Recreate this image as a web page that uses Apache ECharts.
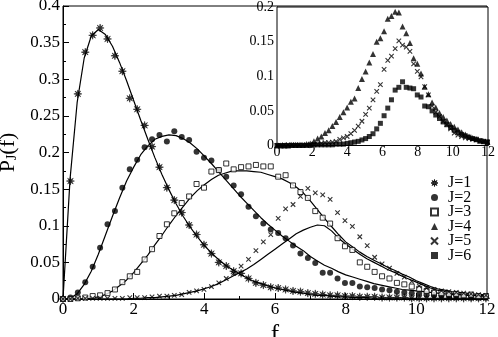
<!DOCTYPE html>
<html><head><meta charset="utf-8">
<script src="https://cdn.jsdelivr.net/npm/echarts@6.0.0/dist/echarts.min.js"></script>
<style>html,body{margin:0;padding:0;background:#fff}#c{width:498px;height:337px}</style>
</head><body><div id="c"></div>
<script>
// sample positions of the simulated points
const fData = [0,0.21,0.42,0.63,0.84,1.05,1.26,1.47,1.68,1.89,
  2.1,2.31,2.52,2.73,2.94,3.15,3.36,3.57,3.78,3.99,
  4.2,4.41,4.62,4.83,5.04,5.25,5.46,5.67,5.88,6.09,
  6.3,6.51,6.72,6.93,7.14,7.35,7.56,7.77,7.98,8.19,
  8.4,8.61,8.82,9.03,9.24,9.45,9.66,9.87,10.08,10.29,
  10.5,10.71,10.92,11.13,11.34,11.55,11.76,11.97];
const j1 = [0,0.161,0.280,0.337,0.360,0.370,0.355,0.332,0.311,0.274,
  0.259,0.237,0.208,0.180,0.152,0.135,0.118,0.101,0.088,0.074,
  0.062,0.050,0.045,0.038,0.035,0.028,0.022,0.019,0.016,0.015,
  0.013,0.011,0.010,0.008,0.007,0.006,0.005,0.005,0.004,0.004,
  0.003,0.003,0.003,0.002,0.002,0.002,0.002,0.001,0.001,0.001,
  0.001,0.001,0.001,0.001,0.001,0.001,0.001,0.001];
const j2 = [0,0.002,0.009,0.023,0.044,0.070,0.102,0.120,0.152,0.177,
  0.190,0.207,0.218,0.224,0.215,0.229,0.221,0.217,0.201,0.193,
  0.189,0.176,0.167,0.155,0.143,0.126,0.113,0.103,0.095,0.090,
  0.083,0.073,0.062,0.056,0.049,0.036,0.036,0.028,0.022,0.022,
  0.017,0.016,0.015,0.013,0.012,0.010,0.009,0.008,0.007,0.006,
  0.005,0.004,0.004,0.003,0.003,0.002,0.002,0.002];
const j3 = [0,0.000,0.001,0.002,0.004,0.005,0.008,0.013,0.023,0.031,
  0.037,0.054,0.068,0.086,0.102,0.117,0.131,0.140,0.157,0.152,
  0.174,0.176,0.185,0.177,0.180,0.181,0.183,0.181,0.181,0.167,
  0.169,0.155,0.146,0.138,0.120,0.111,0.103,0.083,0.072,0.067,
  0.050,0.044,0.037,0.031,0.028,0.022,0.020,0.017,0.014,0.011,
  0.009,0.008,0.007,0.007,0.005,0.006,0.004,0.004];
const j4 = [0,0.000,0.000,0.000,0.001,0.001,0.001,0.001,0.002,0.003,
  0.006,0.010,0.013,0.018,0.022,0.028,0.034,0.041,0.048,0.055,
  0.063,0.068,0.083,0.096,0.107,0.120,0.132,0.150,0.155,0.165,
  0.183,0.187,0.193,0.192,0.172,0.162,0.148,0.126,0.118,0.104,
  0.085,0.074,0.062,0.055,0.047,0.041,0.036,0.031,0.027,0.023,
  0.019,0.016,0.013,0.011,0.009,0.007,0.006,0.005];
const j5 = [0,0.000,0.001,0.001,0.001,0.001,0.001,0.001,0.001,0.002,
  0.002,0.002,0.003,0.004,0.004,0.005,0.006,0.009,0.011,0.013,
  0.017,0.022,0.028,0.035,0.045,0.054,0.066,0.078,0.088,0.110,
  0.123,0.129,0.140,0.151,0.145,0.142,0.136,0.118,0.107,0.099,
  0.085,0.073,0.057,0.048,0.042,0.035,0.030,0.024,0.018,0.015,
  0.013,0.011,0.010,0.009,0.008,0.007,0.006,0.005];
const j6 = [0,0.000,0.000,0.000,0.000,0.000,0.000,0.000,0.000,0.000,
  0.001,0.001,0.001,0.001,0.001,0.001,0.002,0.002,0.002,0.003,
  0.004,0.005,0.006,0.008,0.010,0.013,0.017,0.024,0.032,0.043,
  0.054,0.066,0.080,0.084,0.092,0.084,0.083,0.082,0.073,0.070,
  0.057,0.056,0.050,0.044,0.039,0.034,0.030,0.026,0.022,0.019,
  0.016,0.014,0.012,0.010,0.009,0.007,0.006,0.005];

// fitted curves
const fCurve = [0,0.2,0.4,0.6,0.8,1,1.2,1.4,1.6,1.8,
  2,2.2,2.4,2.6,2.8,3,3.2,3.4,3.6,3.8,
  4,4.2,4.4,4.6,4.8,5,5.2,5.4,5.6,5.8,
  6,6.2,6.4,6.6,6.8,7,7.2,7.4,7.6,7.8,
  8,8.2,8.4,8.6,8.8,9,9.2,9.4,9.6,9.8,
  10,10.2,10.4,10.6,10.8,11,11.2,11.4,11.6,11.8,12];
const c1 = [0,0.164,0.268,0.329,0.359,0.368,0.361,0.345,0.323,0.298,
  0.271,0.244,0.218,0.193,0.170,0.149,0.130,0.113,0.098,0.085,
  0.073,0.063,0.054,0.046,0.040,0.034,0.029,0.024,0.021,0.018,
  0.015,0.013,0.011,0.009,0.008,0.006,0.005,0.005,0.004,0.003,
  0.003,0.002,0.002,0.002,0.001,0.001,0.001,0.001,0.001,0.001,
  0,0,0,0,0,0,0,0,0,0,0];
const c2 = [0,0.001,0.007,0.020,0.038,0.061,0.087,0.113,0.138,0.161,
  0.180,0.197,0.209,0.218,0.222,0.224,0.223,0.219,0.213,0.205,
  0.195,0.185,0.174,0.163,0.152,0.141,0.131,0.121,0.111,0.102,
  0.094,0.086,0.079,0.072,0.066,0.058,0.052,0.046,0.042,0.037,
  0.033,0.030,0.027,0.024,0.021,0.019,0.017,0.015,0.013,0.012,
  0.011,0.010,0.009,0.008,0.007,0.006,0.006,0.005,0.005,0.004,0.004];
const c3 = [0,0,0,0,0.001,0.003,0.006,0.011,0.018,0.026,
  0.036,0.048,0.060,0.074,0.087,0.101,0.114,0.126,0.138,0.148,
  0.156,0.163,0.169,0.172,0.175,0.175,0.175,0.174,0.173,0.170,
  0.167,0.164,0.159,0.153,0.145,0.134,0.122,0.110,0.099,0.088,
  0.078,0.071,0.064,0.058,0.053,0.048,0.043,0.039,0.034,0.030,
  0.025,0.021,0.017,0.014,0.012,0.010,0.009,0.008,0.007,0.006,0.006];
const c5 = [0,0,0,0,0,0,0,0,0,0,
  0.001,0.001,0.002,0.002,0.003,0.004,0.005,0.007,0.009,0.011,
  0.014,0.017,0.021,0.026,0.031,0.036,0.041,0.047,0.054,0.061,
  0.068,0.075,0.082,0.089,0.094,0.098,0.101,0.100,0.093,0.083,
  0.075,0.068,0.061,0.055,0.050,0.045,0.040,0.036,0.031,0.027,
  0.023,0.019,0.015,0.012,0.010,0.008,0.007,0.006,0.005,0.005,0.004];

// axis ticks
const xTicks = [0,2,4,6,8,10,12];
const yTicksMain = [0,0.05,0.1,0.15,0.2,0.25,0.3,0.35,0.4];
const yTicksInset = [0,0.05,0.1,0.15,0.2];
const legendNames = ['J=1','J=2','J=3','J=4','J=5','J=6'];

const FONT = "'Liberation Serif', 'Times New Roman', serif";
const pairs = (xs, ys) => xs.map((x, i) => [x, ys[i]]);
const ASTER = 'path://M0,-10L1.34,-3.23L7.07,-7.07L3.23,-1.34L10,0L3.23,1.34L7.07,7.07L1.34,3.23L0,10L-1.34,3.23L-7.07,7.07L-3.23,1.34L-10,0L-3.23,-1.34L-7.07,-7.07L-1.34,-3.23Z';
const CROSS = 'path://M-10,-10L10,10M-10,10L10,-10';

function axisX(gridIndex, fontSize, margin) {
  return {
    type: 'value', gridIndex, min: xTicks[0], max: xTicks[xTicks.length - 1],
    interval: xTicks[1] - xTicks[0],
    axisLine: { onZero: false, lineStyle: { color: '#000', width: 1 } },
    axisTick: { inside: true, length: 6, lineStyle: { color: '#000' } },
    minorTick: { show: true, splitNumber: 2, length: 3, lineStyle: { color: '#000' } },
    splitLine: { show: false },
    axisLabel: { color: '#000', fontFamily: FONT, fontSize, margin }
  };
}
function axisY(gridIndex, ticks, fontSize, margin) {
  return {
    type: 'value', gridIndex, min: ticks[0], max: ticks[ticks.length - 1],
    interval: ticks[1] - ticks[0],
    axisLine: { show: true, onZero: false, lineStyle: { color: '#000', width: 1 } },
    axisTick: { show: true, inside: true, length: 6, lineStyle: { color: '#000' } },
    minorTick: { show: true, splitNumber: 2, length: 3, lineStyle: { color: '#000' } },
    splitLine: { show: false },
    axisLabel: { color: '#000', fontFamily: FONT, fontSize, margin }
  };
}

const xMain = axisX(0, 17, 2);
xMain.name = 'f';
xMain.nameLocation = 'middle';
xMain.nameGap = 15;
xMain.nameTextStyle = { fontFamily: FONT, fontSize: 25, color: '#000' };
const yMain = axisY(0, yTicksMain, 17, 3);
yMain.name = '{a|P}{b|J}{a|(f)}';
yMain.nameLocation = 'middle';
yMain.nameGap = 41;
yMain.nameTextStyle = { fontFamily: FONT, color: '#000',
  rich: { a: { fontFamily: FONT, fontSize: 22, color: '#000' },
          b: { fontFamily: FONT, fontSize: 14, color: '#000', padding: [9, 0, 0, 0] } } };

const lineStyle = { color: '#000', width: 1.2 };
function curve(name, ys) {
  return { type: 'line', name: name, xAxisIndex: 0, yAxisIndex: 0, data: pairs(fCurve, ys),
    showSymbol: false, symbol: 'none', lineStyle, silent: true, z: 2 };
}

const legendData = legendNames.map((n, i) => i === 0 ? { name: n, itemStyle: { borderWidth: 1 } } : n);

const option = {
  animation: false,
  backgroundColor: '#fff',
  grid: [
    { left: 63, top: 6, right: 11, bottom: 38, show: true, borderColor: '#000', borderWidth: 1,
      containLabel: false, outerBoundsMode: 'none' },
    { left: 277, top: 7, right: 10, bottom: 191.5, show: true, borderColor: '#000', borderWidth: 1,
      backgroundColor: '#fff', z: 5, containLabel: false, outerBoundsMode: 'none' }
  ],
  xAxis: [xMain, axisX(1, 14, 0)],
  yAxis: [yMain, axisY(1, yTicksInset, 14, 3)],
  legend: {
    data: legendData, orient: 'vertical', left: 430, top: 175, padding: 0,
    itemWidth: 7, itemHeight: 7, itemGap: -1.5, selectedMode: false,
    textStyle: { fontFamily: FONT, fontSize: 16, color: '#000', padding: [0, 0, 0, 5] }
  },
  series: [
    curve('fit1', c1), curve('fit2', c2), curve('fit3', c3), curve('fit5', c5),
    { type: 'scatter', name: legendNames[0], xAxisIndex: 0, yAxisIndex: 0, data: pairs(fData, j1),
      symbol: ASTER, symbolSize: 8, itemStyle: { color: '#000', borderColor: '#000', borderWidth: 0.6 }, z: 3 },
    { type: 'scatter', name: legendNames[1], xAxisIndex: 0, yAxisIndex: 0, data: pairs(fData, j2),
      symbol: 'circle', symbolSize: 6, itemStyle: { color: '#000' }, z: 3 },
    { type: 'scatter', name: legendNames[2], xAxisIndex: 0, yAxisIndex: 0, data: pairs(fData, j3),
      symbol: 'rect', symbolSize: 5, itemStyle: { color: '#fff', borderColor: '#000', borderWidth: 1 }, z: 3 },
    { type: 'scatter', name: legendNames[3], xAxisIndex: 1, yAxisIndex: 1, data: pairs(fData, j4),
      symbol: 'triangle', symbolSize: 6, itemStyle: { color: '#000' }, z: 6 },
    { type: 'scatter', name: legendNames[4], xAxisIndex: 0, yAxisIndex: 0, data: pairs(fData, j5),
      symbol: CROSS, symbolSize: 4.5, itemStyle: { color: '#000', borderColor: '#000', borderWidth: 1.1 }, z: 3 },
    { type: 'scatter', name: legendNames[4], xAxisIndex: 1, yAxisIndex: 1, data: pairs(fData, j5),
      symbol: CROSS, symbolSize: 4.5, itemStyle: { color: '#000', borderColor: '#000', borderWidth: 1.1 }, z: 6 },
    { type: 'scatter', name: legendNames[5], xAxisIndex: 1, yAxisIndex: 1, data: pairs(fData, j6),
      symbol: 'rect', symbolSize: 5, itemStyle: { color: '#000' }, z: 6 }
  ]
};
const chart = echarts.init(document.getElementById('c'), null, { renderer: 'canvas' });
chart.setOption(option);
</script>
</body></html>
